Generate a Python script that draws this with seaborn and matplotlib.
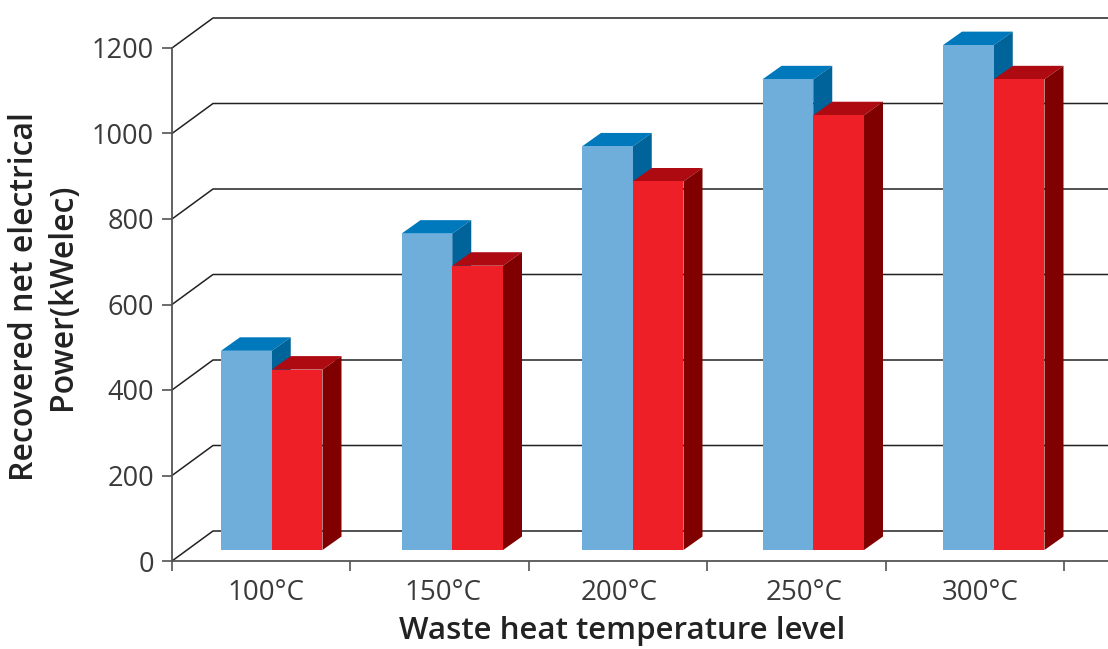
import pandas as pd
import matplotlib
matplotlib.use("Agg")
import matplotlib.pyplot as plt
from matplotlib.patches import Polygon
from matplotlib.transforms import Affine2D
import seaborn as sns

temps = ['100°C', '150°C', '200°C', '250°C', '300°C']
series_a = [466, 740, 944, 1101, 1181]
series_b = [422, 665, 862, 1017, 1101]
yticks = [0, 200, 400, 600, 800, 1000, 1200]

W, H = 1108, 649
CAT = 180.5  # px per category for the bars, the tick marks run slightly tighter
sns.set_theme(style='white')
plt.rcParams['font.family'] = ['Open Sans', 'DejaVu Sans']

df = pd.DataFrame({'temp': temps * 2,
                   'power': series_a + series_b,
                   'series': ['a'] * 5 + ['b'] * 5})

fig = plt.figure(figsize=(W / 100, H / 100), dpi=100)
# axes in pixels: left edge 172, runs off the right side of the image
ax = fig.add_axes([172 / W, (H - 561) / H, (W - 172) / W, 513 / H])
sns.barplot(data=df, x='temp', y='power', hue='series', order=temps,
            palette=['#6FADDA', '#EE1F26'], width=0.5623, gap=0, dodge=True,
            saturation=1, legend=False, linewidth=0, ax=ax, zorder=3)
ax.set_xlim(-0.5, -0.5 + (W - 172) / CAT)
ax.set_ylim(0, 1200)

#spines and ticks
for s in ['top', 'right']:
    ax.spines[s].set_visible(False)
for s in ['left', 'bottom']:
    ax.spines[s].set_color('#555555')
    ax.spines[s].set_linewidth(1.3)
ax.set_yticks(yticks)
ax.tick_params(axis='y', left=True, length=7, width=1.1, color='#444444',
               labelsize=19.5, labelcolor='#3a3a3a', pad=6)
ax.set_xticks([0.02, 1, 1.978, 3, 3.978])
ax.set_xticklabels(temps)
ax.tick_params(axis='x', which='major', bottom=False, labelsize=20,
               labelcolor='#3a3a3a', pad=7)
ax.set_xticks([-0.5 + i * 178.4 / CAT for i in range(6)], minor=True)
ax.tick_params(axis='x', which='minor', bottom=True, length=7, width=1.1,
               color='#444444')
ax.set_xlabel('')
ax.set_ylabel('')

#back wall lines, going back by 41,30 px
for v in yticks:
    x0, y0 = ax.transData.transform((-0.5, v))
    ax.plot([x0, x0 + 41, W], [y0, y0 + 30, y0 + 30], color='#222222', lw=1.1,
            transform=Affine2D(), clip_on=False, zorder=1)

#fake 3d: shift the bars and add top and side faces
sx, sy = 9.5, 11
shift = Affine2D().translate(sx, sy)
dx, dy = 19, 13.5
faces = {'#6FADDA': ('#0079BC', '#00639A'), '#EE1F26': ('#AD0B11', '#800000')}
bars = [p for p in ax.patches if p.get_height() > 0]
for p in bars:
    fc = matplotlib.colors.to_hex(p.get_facecolor()).upper()
    top, side = faces[fc]
    xa, ya = ax.transData.transform((p.get_x(), 0)) + (sx, sy)
    xb, yb = ax.transData.transform((p.get_x() + p.get_width(), p.get_height())) + (sx, sy)
    p.set_transform(ax.transData + shift)
    p.set_clip_on(False)
    z = 3 if fc == '#6FADDA' else 4
    p.set_zorder(z + 0.5)
    ax.add_patch(Polygon([(xa, yb), (xb, yb), (xb + dx, yb + dy), (xa + dx, yb + dy)],
                         fc=top, ec='none', transform=Affine2D(), clip_on=False, zorder=z))
    ax.add_patch(Polygon([(xb, ya), (xb + dx, ya + dy), (xb + dx, yb + dy), (xb, yb)],
                         fc=side, ec='none', transform=Affine2D(), clip_on=False, zorder=z))

fig.text(622 / W, 1 - 631 / H, 'Waste heat temperature level', fontsize=22.5,
         fontweight='semibold', color='#222222', ha='center', va='center')
fig.text(25 / W, 1 - 297 / H, 'Recovered net electrical', fontsize=23,
         fontweight='semibold', color='#222222', rotation=90, ha='center', va='center')
fig.text(63 / W, 1 - 297 / H, 'Power(kWelec)', fontsize=23,
         fontweight='semibold', color='#222222', rotation=90, ha='center', va='center')

fig.savefig('out.png', dpi=100)
